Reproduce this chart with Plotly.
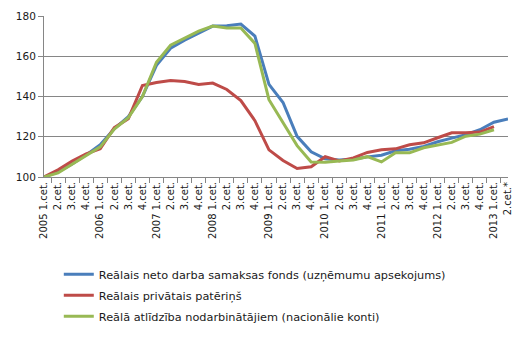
import plotly.graph_objects as go

years = ["2005", "2006", "2007", "2008", "2009", "2010", "2011", "2012", "2013"]
quarters = ["1.cet.", "2.cet.", "3.cet.", "4.cet."]

category_keys = []
tick_text = []
for y in years:
    for q in quarters:
        category_keys.append(y + " " + q)
        tick_text.append(y + " " + q if q == "1.cet." else q)
category_keys = category_keys[:34]
tick_text = tick_text[:33] + ["2.cet.*"]

wage_fund = [100, 102.5, 106.5, 111, 116, 124, 130, 140, 155.5, 164, 168, 171.5,
             175, 175.2, 176, 170, 146, 137, 120.2, 112.5, 109, 108.5, 108.8, 110,
             110.8, 113, 113.8, 115.2, 117.5, 119.3, 121, 123.5, 127.2, 128.8]
consumption = [100, 103.6, 107.9, 111.5, 114, 124.5, 129, 145.5, 147, 148, 147.5, 146,
               146.7, 143.5, 138, 128, 113.5, 108.2, 104.2, 105.1, 110.1, 108, 109.5, 112.2,
               113.5, 114, 116, 117, 119.5, 122, 122, 122.3, 125, None]
compensation = [100, 102, 106.3, 110.5, 115, 123.8, 129.5, 140, 157, 165.5, 169, 172.5,
                175, 174, 174, 166.4, 138.4, 127.3, 115.6, 107.5, 107.3, 108, 108.5, 110.1,
                107.5, 112, 112, 114.5, 115.8, 117.2, 120.3, 121.3, 123.5, None]

names = [
    "Reālais neto darba samaksas fonds (uzņēmumu apsekojums)",
    "Reālais privātais patēriņš",
    "Reālā atlīdzība nodarbinātājiem (nacionālie konti)",
]
colors = ["#4A7EBB", "#BE4B48", "#98B954"]

fig = go.Figure()
for i, (vals, name, col) in enumerate(zip([wage_fund, consumption, compensation], names, colors)):
    fig.add_trace(go.Scatter(
        x=category_keys, y=vals, name=name, mode="lines",
        line=dict(color=col, width=3), connectgaps=False,
        legendgroup="g%d" % i,
    ))

font_family = "DejaVu Sans"
fig.update_layout(
    width=525, height=340,
    margin=dict(l=44, r=17, t=16, b=163, autoexpand=False),
    paper_bgcolor="white", plot_bgcolor="white",
    font=dict(family=font_family, size=10, color="#1a1a1a"),
    showlegend=True,
    legend=dict(
        orientation="v", traceorder="grouped", tracegroupgap=2,
        xref="container", yref="container",
        x=0.112, y=0.236, xanchor="left", yanchor="top",
        font=dict(family=font_family, size=11.3, color="#1a1a1a"),
        bgcolor="rgba(0,0,0,0)",
    ),
)
fig.update_xaxes(
    type="category", categoryorder="array", categoryarray=category_keys,
    tickmode="array", tickvals=category_keys, ticktext=tick_text,
    tickangle=-90, tickson="boundaries", ticks="outside", ticklen=5,
    tickcolor="#868686", showline=True, linecolor="#868686", linewidth=1,
    showgrid=False, automargin=False,
    tickfont=dict(family=font_family, size=10, color="#1a1a1a"),
)
fig.update_yaxes(
    range=[100, 180], dtick=20, tick0=100, ticks="outside", ticklen=5,
    tickcolor="#868686", showline=True, linecolor="#868686", linewidth=1,
    showgrid=True, gridcolor="#868686", gridwidth=1, zeroline=False, automargin=False,
    tickfont=dict(family=font_family, size=10.5, color="#1a1a1a"),
)

fig.write_html("out.html")
